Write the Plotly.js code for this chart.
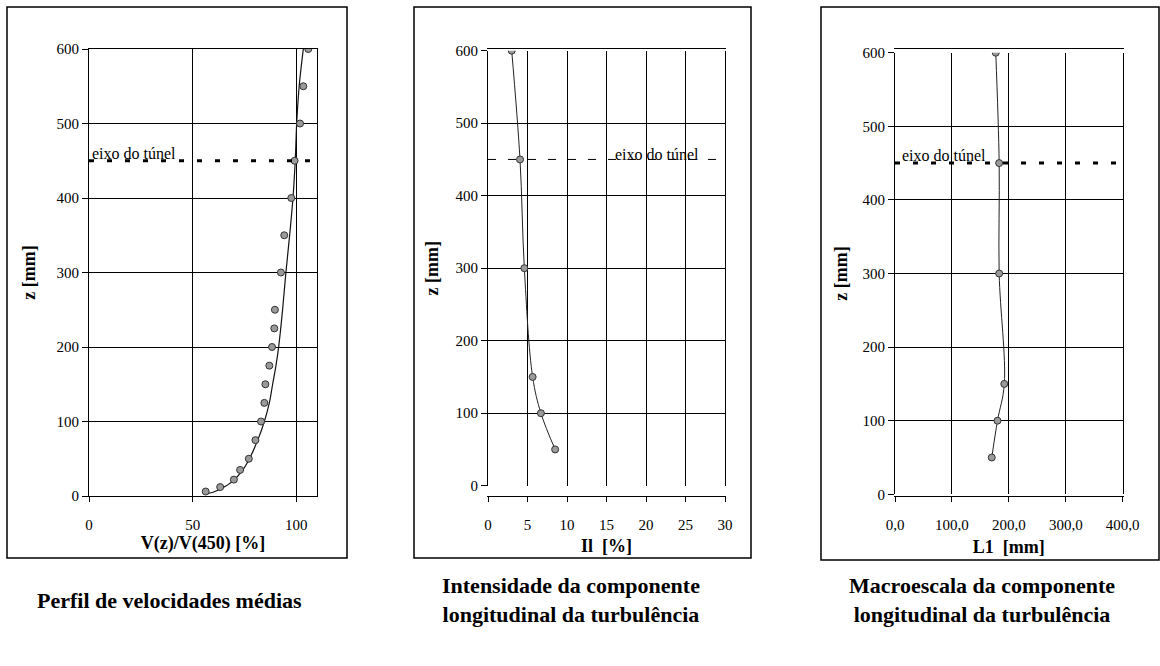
<!DOCTYPE html>
<html>
<head>
<meta charset="utf-8">
<script src="https://cdn.plot.ly/plotly-3.0.1.min.js"></script>
<style>html,body{margin:0;padding:0;background:#fff;}#chart{width:1160px;height:666px;}</style>
</head>
<body>
<div id="chart"></div>
<script>
// ---------- data ----------
// Panel 1: mean velocity profile (measured points)
const velZ = [600, 550, 500, 450, 400, 350, 300, 250, 225, 200, 175, 150, 125, 100, 75, 50, 35, 22, 12, 6];
const velV = [105.8, 103.4, 101.8, 99.2, 97.6, 94.2, 92.6, 89.7, 89.4, 88.3, 87.0, 85.1, 84.6, 83.0, 80.3, 77.1, 72.9, 69.9, 63.3, 56.3];
// Panel 1: fitted curve
const fitZ = [3, 5, 10, 20, 35, 50, 75, 100, 125, 150, 175, 200, 250, 300, 350, 400, 450, 500, 550, 600];
const fitV = [56.5, 59.8, 63.8, 69.4, 74.2, 77.4, 81.4, 84.6, 87.0, 88.6, 90.2, 91.5, 93.4, 95.0, 96.8, 98.4, 99.5, 100.2, 101.4, 103.4];
// Panel 2: longitudinal turbulence intensity
const intZ = [600, 450, 300, 150, 100, 50];
const intI = [3.0, 4.05, 4.6, 5.65, 6.7, 8.5];
// Panel 3: longitudinal macroscale
const macZ = [600, 450, 300, 150, 100, 50];
const macL = [177, 183, 183, 192, 180, 170];
// tunnel axis height
const tunnelAxisZ = 450;
// tick labels
const zTicks = [0, 100, 200, 300, 400, 500, 600];
const vTicks = [0, 50, 100];
const iTicks = [0, 5, 10, 15, 20, 25, 30];
const lTicks = [0, 100, 200, 300, 400];
const lTickText = ['0,0', '100,0', '200,0', '300,0', '400,0'];
// texts
const axisLabel = 'eixo do túnel';
const xTitles = ['V(z)/V(450) [%]', 'Il  [%]', 'L1  [mm]'];
const yTitle = 'z [mm]';
const captions = ['Perfil de velocidades médias',
  'Intensidade da componente<br>longitudinal da turbulência',
  'Macroescala da componente<br>longitudinal da turbulência'];

// ---------- layout helpers ----------
const W = 1160, H = 666;
const px = x => x / W;
const py = y => 1 - y / H;
const serif = '"Liberation Serif", "Times New Roman", serif';
const markerStyle = {symbol: 'circle', size: 7, color: '#9a9a9a', line: {color: '#333', width: 1}};

function xAxis(domain, range, ticks, text, title, standoff) {
  const a = {
    domain: domain, range: range, tickvals: ticks, showgrid: true, gridcolor: '#000', gridwidth: 1,
    showline: true, linecolor: '#000', linewidth: 1, mirror: true, zeroline: false,
    ticks: 'outside', ticklen: 5, tickcolor: '#000', ticklabelstandoff: 10,
    tickfont: {family: serif, size: 15, color: '#000'},
    title: {text: '<b>' + title + '</b>', font: {family: serif, size: 18, color: '#000'}, standoff: standoff},
    fixedrange: true
  };
  if (text) a.ticktext = text;
  return a;
}
function yAxis(domain, anchor, standoff) {
  return {
    domain: domain, anchor: anchor, range: [0, 600], tickvals: zTicks, showgrid: true, gridcolor: '#000', gridwidth: 1,
    showline: true, linecolor: '#000', linewidth: 1, mirror: true, zeroline: false,
    ticks: 'outside', ticklen: 6, tickcolor: '#000',
    tickfont: {family: serif, size: 15, color: '#000'},
    title: {text: '<b>' + yTitle + '</b>', font: {family: serif, size: 18, color: '#000'}, standoff: standoff},
    fixedrange: true
  };
}

const traces = [
  {x: fitV, y: fitZ, xaxis: 'x', yaxis: 'y', mode: 'lines', line: {color: '#111', width: 1.2, shape: 'spline'}, hoverinfo: 'skip'},
  {x: velV, y: velZ, xaxis: 'x', yaxis: 'y', mode: 'markers', marker: markerStyle},
  {x: intI, y: intZ, xaxis: 'x2', yaxis: 'y2', mode: 'lines+markers', line: {color: '#222', width: 1, shape: 'spline'}, marker: markerStyle},
  {x: macL, y: macZ, xaxis: 'x3', yaxis: 'y3', mode: 'lines+markers', line: {color: '#222', width: 1, shape: 'spline'}, marker: markerStyle}
];

const boldDots = {color: '#000', width: 3, dash: '5px,13px'};
const thinDash = {color: '#000', width: 1, dash: '8px,12px'};
const box = (x0, y0, x1, y1) => ({type: 'rect', xref: 'paper', yref: 'paper', x0: px(x0), x1: px(x1), y0: py(y1), y1: py(y0), line: {color: '#000', width: 1.5}, layer: 'below'});
const capFont = {family: serif, size: 22, color: '#000'};
const lblFont = {family: serif, size: 16, color: '#000'};

const layout = {
  width: W, height: H, autosize: false, showlegend: false,
  margin: {l: 0, r: 0, t: 0, b: 0, pad: 0},
  paper_bgcolor: '#fff', plot_bgcolor: '#fff',
  font: {family: serif, color: '#000'},
  xaxis: xAxis([px(89), px(317)], [0, 110], vTicks, null, xTitles[0], 0),
  yaxis: yAxis([py(496), py(49)], 'x', 16),
  xaxis2: xAxis([px(488), px(725)], [0, 30], iTicks, null, xTitles[1], 7),
  yaxis2: yAxis([py(485.7), py(50.7)], 'x2', 12),
  xaxis3: xAxis([px(895), px(1122.7)], [0, 400], lTicks, lTickText, xTitles[2], 8),
  yaxis3: yAxis([py(494.3), py(52.7)], 'x3', 10),
  shapes: [
    box(7, 7, 347, 558), box(414, 7, 751, 558), box(821, 7, 1159, 560),
    {type: 'line', xref: 'x domain', yref: 'y', x0: 0, x1: 1, y0: tunnelAxisZ, y1: tunnelAxisZ, line: boldDots},
    {type: 'line', xref: 'x2 domain', yref: 'y2', x0: 0, x1: 1, y0: tunnelAxisZ, y1: tunnelAxisZ, line: thinDash},
    {type: 'line', xref: 'x3 domain', yref: 'y3', x0: 0, x1: 1, y0: tunnelAxisZ, y1: tunnelAxisZ, line: boldDots}
  ],
  annotations: [
    {xref: 'x', yref: 'y', x: 0.5, y: tunnelAxisZ, xanchor: 'left', yanchor: 'bottom', yshift: -3, showarrow: false, text: axisLabel, font: lblFont},
    {xref: 'x2', yref: 'y2', x: 15.8, y: tunnelAxisZ, xanchor: 'left', yanchor: 'middle', yshift: 5, showarrow: false, text: axisLabel, font: lblFont},
    {xref: 'x3', yref: 'y3', x: 9, y: tunnelAxisZ, xanchor: 'left', yanchor: 'bottom', yshift: -3, showarrow: false, text: axisLabel, font: lblFont},
    {xref: 'paper', yref: 'paper', x: px(170), y: py(600), xanchor: 'center', yanchor: 'middle', align: 'center', showarrow: false, text: '<b>' + captions[0] + '</b>', font: capFont},
    {xref: 'paper', yref: 'paper', x: px(571), y: py(600), xanchor: 'center', yanchor: 'middle', align: 'center', showarrow: false, text: '<b>' + captions[1] + '</b>', font: capFont},
    {xref: 'paper', yref: 'paper', x: px(982), y: py(600), xanchor: 'center', yanchor: 'middle', align: 'center', showarrow: false, text: '<b>' + captions[2] + '</b>', font: capFont}
  ]
};

Plotly.newPlot('chart', traces, layout, {displayModeBar: false, staticPlot: true});
</script>
</body>
</html>
